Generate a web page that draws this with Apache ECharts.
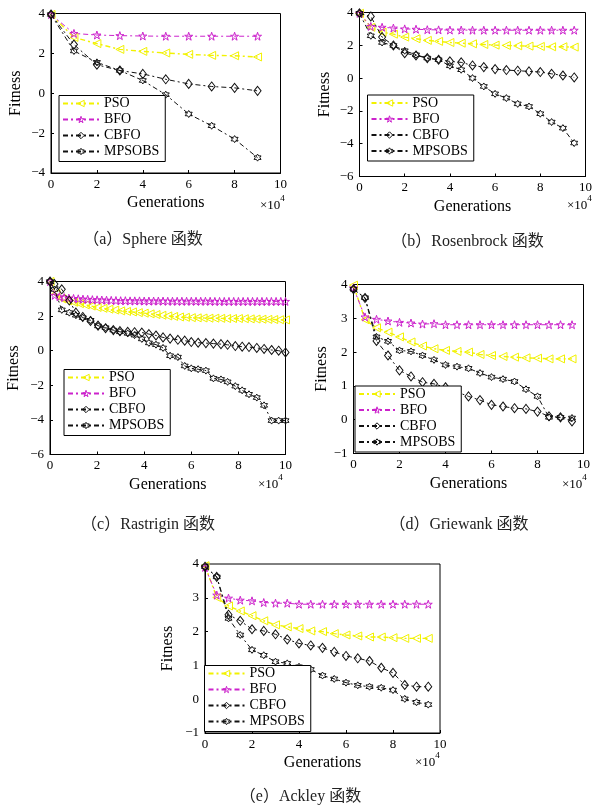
<!DOCTYPE html>
<html>
<head>
<meta charset="utf-8">
<script src="https://cdn.jsdelivr.net/npm/echarts@6/dist/echarts.min.js"></script>
<style>
html,body{margin:0;padding:0;background:#fff;}
#chart{width:595px;height:805px;}
</style>
</head>
<body>
<div id="chart"></div>
<script>
// ---------- data ----------
const seriesNames = ['PSO', 'BFO', 'CBFO', 'MPSOBS'];
const captions = ['（a）Sphere 函数', '（b）Rosenbrock 函数', '（c）Rastrigin 函数', '（d）Griewank 函数', '（e）Ackley 函数'];
const xTicks = [0, 2, 4, 6, 8, 10];
const yTicksA = [-4, -2, 0, 2, 4];
const yTicksB = [-6, -4, -2, 0, 2, 4];
const yTicksC = [-6, -4, -2, 0, 2, 4];
const yTicksD = [-1, 0, 1, 2, 3, 4];
const yTicksE = [-1, 0, 1, 2, 3, 4];

// (a) Sphere
const xA = [0, 1, 2, 3, 4, 5, 6, 7, 8, 9];
const psoA = [3.95, 2.8, 2.49, 2.2, 2.1, 2.02, 1.95, 1.9, 1.88, 1.82];
const bfoA = [3.95, 3.0, 2.92, 2.89, 2.87, 2.86, 2.86, 2.86, 2.86, 2.86];
const cbfoA = [3.95, 2.44, 1.43, 1.14, 0.97, 0.7, 0.47, 0.34, 0.27, 0.12];
const mpsA = [3.95, 2.12, 1.55, 1.14, 0.64, -0.07, -1.04, -1.63, -2.3, -3.23];

// (b) Rosenbrock
const xB = [0, 0.5, 1, 1.5, 2, 2.5, 3, 3.5, 4, 4.5, 5, 5.5, 6, 6.5, 7, 7.5, 8, 8.5, 9, 9.5];
const psoB = [3.95, 3.1, 2.8, 2.68, 2.5, 2.4, 2.3, 2.24, 2.17, 2.13, 2.09, 2.05, 2.01, 1.99, 1.97, 1.95, 1.93, 1.91, 1.91, 1.89];
const bfoB = [3.95, 3.15, 3.1, 3.05, 3.0, 2.98, 2.95, 2.94, 2.93, 2.93, 2.92, 2.92, 2.92, 2.92, 2.92, 2.92, 2.92, 2.92, 2.92, 2.92];
const cbfoB = [3.95, 3.76, 2.5, 1.99, 1.52, 1.38, 1.22, 1.12, 1.02, 0.96, 0.77, 0.67, 0.55, 0.49, 0.45, 0.41, 0.37, 0.26, 0.16, 0.04];
const mpsB = [3.95, 2.58, 2.17, 1.99, 1.67, 1.42, 1.22, 1.12, 0.75, 0.51, 0.0, -0.51, -0.96, -1.22, -1.57, -1.73, -2.17, -2.68, -3.05, -3.96];

// (c) Rastrigin
const xPsoC = [0, 0.25, 0.5, 0.75, 1, 1.25, 1.5, 1.75, 2, 2.25, 2.5, 2.75, 3, 3.25, 3.5, 3.75, 4, 4.25, 4.5, 4.75, 5, 5.25, 5.5, 5.75, 6, 6.25, 6.5, 6.75, 7, 7.25, 7.5, 7.75, 8, 8.25, 8.5, 8.75, 9, 9.25, 9.5, 9.75, 10];
const psoC = [4.0, 3.3, 3.0, 2.88, 2.8, 2.72, 2.65, 2.58, 2.5, 2.45, 2.4, 2.35, 2.3, 2.27, 2.24, 2.2, 2.17, 2.13, 2.09, 2.05, 2.01, 1.98, 1.95, 1.93, 1.91, 1.9, 1.89, 1.88, 1.88, 1.87, 1.86, 1.86, 1.86, 1.85, 1.84, 1.83, 1.82, 1.81, 1.8, 1.79, 1.78];
const xBfoC = [0, 0.2, 0.4, 0.6, 0.8, 1, 1.2, 1.4, 1.6, 1.8, 2, 2.2, 2.4, 2.6, 2.8, 3, 3.2, 3.4, 3.6, 3.8, 4, 4.2, 4.4, 4.6, 4.8, 5, 5.2, 5.4, 5.6, 5.8, 6, 6.2, 6.4, 6.6, 6.8, 7, 7.2, 7.4, 7.6, 7.8, 8, 8.2, 8.4, 8.6, 8.8, 9, 9.2, 9.4, 9.6, 9.8, 10];
const bfoC = [4.0, 3.2, 3.12, 3.07, 3.04, 3.02, 3.0, 2.98, 2.97, 2.95, 2.94, 2.93, 2.92, 2.91, 2.9, 2.89, 2.89, 2.88, 2.88, 2.88, 2.87, 2.87, 2.87, 2.87, 2.87, 2.86, 2.86, 2.86, 2.86, 2.86, 2.86, 2.86, 2.86, 2.86, 2.86, 2.85, 2.85, 2.85, 2.85, 2.85, 2.85, 2.85, 2.85, 2.85, 2.85, 2.85, 2.85, 2.85, 2.85, 2.85, 2.85];
const xCbC = [0, 0.19, 0.5, 0.82, 1.1, 1.39, 1.72, 2.04, 2.36, 2.69, 2.97, 3.3, 3.59, 3.9, 4.2, 4.5, 4.8, 5.1, 5.43, 5.72, 6.0, 6.29, 6.62, 6.94, 7.26, 7.54, 7.87, 8.16, 8.45, 8.78, 9.09, 9.41, 9.71, 10.0];
const cbfoC = [4.0, 3.85, 3.55, 2.9, 2.2, 1.95, 1.72, 1.45, 1.3, 1.19, 1.13, 1.09, 1.07, 1.05, 0.96, 0.88, 0.77, 0.7, 0.63, 0.58, 0.5, 0.46, 0.44, 0.41, 0.38, 0.34, 0.27, 0.23, 0.21, 0.16, 0.1, 0.04, 0.0, -0.1];
const mpsC = [4.0, 3.54, 2.36, 2.2, 2.05, 1.91, 1.76, 1.43, 1.33, 1.19, 1.09, 1.0, 0.9, 0.68, 0.45, 0.35, 0.16, -0.29, -0.37, -0.88, -1.02, -1.07, -1.15, -1.6, -1.66, -1.8, -2.05, -2.29, -2.52, -2.71, -3.16, -4.04, -4.04, -4.04];

// (d) Griewank
const xD = [0, 0.5, 1, 1.5, 2, 2.5, 3, 3.5, 4, 4.5, 5, 5.5, 6, 6.5, 7, 7.5, 8, 8.5, 9, 9.5];
const psoD = [3.98, 2.96, 2.72, 2.59, 2.45, 2.3, 2.18, 2.1, 2.05, 2.02, 2.0, 1.93, 1.9, 1.87, 1.85, 1.83, 1.82, 1.8, 1.8, 1.8];
const bfoD = [3.9, 3.04, 2.97, 2.92, 2.88, 2.86, 2.83, 2.84, 2.81, 2.81, 2.81, 2.81, 2.81, 2.81, 2.81, 2.81, 2.81, 2.81, 2.81, 2.81];
const cbfoD = [3.86, 3.6, 2.33, 1.9, 1.46, 1.28, 1.11, 1.06, 0.96, 0.82, 0.69, 0.58, 0.44, 0.39, 0.34, 0.32, 0.24, 0.1, 0.07, -0.05];
const mpsD = [3.86, 3.61, 2.45, 2.32, 2.05, 2.02, 1.9, 1.77, 1.62, 1.57, 1.52, 1.38, 1.26, 1.2, 1.13, 0.9, 0.69, 0.07, 0.07, 0.05];

// (e) Ackley
const xE = [0, 0.5, 1, 1.5, 2, 2.5, 3, 3.5, 4, 4.5, 5, 5.5, 6, 6.5, 7, 7.5, 8, 8.5, 9, 9.5];
const psoE = [3.95, 3.01, 2.76, 2.61, 2.47, 2.32, 2.2, 2.14, 2.09, 2.02, 2.0, 1.94, 1.9, 1.87, 1.84, 1.84, 1.82, 1.8, 1.8, 1.8];
const bfoE = [3.9, 3.08, 2.99, 2.93, 2.91, 2.86, 2.84, 2.84, 2.81, 2.81, 2.81, 2.81, 2.81, 2.81, 2.81, 2.81, 2.81, 2.81, 2.81, 2.81];
const cbfoE = [3.92, 3.62, 2.5, 2.32, 2.07, 2.02, 1.92, 1.77, 1.65, 1.59, 1.52, 1.4, 1.28, 1.21, 1.13, 0.93, 0.78, 0.42, 0.37, 0.37];
const mpsE = [3.92, 3.62, 2.39, 1.9, 1.46, 1.3, 1.11, 1.06, 0.96, 0.88, 0.7, 0.6, 0.49, 0.41, 0.37, 0.34, 0.27, 0.01, -0.09, -0.16];

// ---------- styling ----------
const SERIF = '"Liberation Serif", "Times New Roman", serif';
const CAPFONT = '"Liberation Serif", "Noto Sans CJK SC", serif';
const YELLOW = '#f2f200';
const MAGENTA = '#cc22cc';
const BLACK = '#111111';
const DASH = [5, 3, 2, 3];
const STAR5 = 'path://M50,0 L61.8,35.1 L98.9,35.1 L69,56.7 L80.3,91.9 L50,70.2 L19.7,91.9 L31,56.7 L1.1,35.1 L38.2,35.1 Z';
const HEX6 = 'path://M50,0 L64.4,25 L93.3,25 L78.9,50 L93.3,75 L64.4,75 L50,100 L35.6,75 L6.7,75 L21.1,50 L6.7,25 L35.6,25 Z';

const styles = {
  PSO:    {color: YELLOW,  symbol: 'triangle', symbolRotate: 90, symbolSize: 8, width: 1.4},
  BFO:    {color: MAGENTA, symbol: STAR5, symbolRotate: 0, symbolSize: 8, width: 1},
  CBFO:   {color: BLACK,   symbol: 'diamond', symbolRotate: 0, symbolSize: [7, 9], width: 1},
  MPSOBS: {color: BLACK,   symbol: HEX6, symbolRotate: 0, symbolSize: 7, width: 1}
};

const panels = [
  {grid: {left: 51, top: 13.5, width: 229.5, height: 159.5}, yTicks: yTicksA, yGap: 27,
   legend: {left: 59, top: 95.5},
   series: [[xA, psoA], [xA, bfoA], [xA, cbfoA], [xA, mpsA]],
   cap: [143, 240], x10: [260, 203]},
  {grid: {left: 359.5, top: 12.5, width: 229, height: 164}, yTicks: yTicksB, yGap: 27,
   legend: {left: 367.5, top: 95},
   series: [[xB, psoB], [xB, bfoB], [xB, cbfoB], [xB, mpsB]],
   cap: [467.5, 241.5], x10: [567, 203]},
  {grid: {left: 50, top: 281.5, width: 235.5, height: 173}, yTicks: yTicksC, yGap: 28,
   legend: {left: 64, top: 369.5},
   series: [[xPsoC, psoC], [xBfoC, bfoC], [xCbC, cbfoC], [xCbC, mpsC]],
   cap: [148, 525], x10: [258, 482]},
  {grid: {left: 353.5, top: 284.5, width: 230, height: 169}, yTicks: yTicksD, yGap: 21,
   legend: {left: 355, top: 386},
   series: [[xD, psoD], [xD, bfoD], [xD, cbfoD], [xD, mpsD]],
   cap: [459, 525], x10: [562, 482]},
  {grid: {left: 205, top: 564, width: 235, height: 169}, yTicks: yTicksE, yGap: 29,
   legend: {left: 204.5, top: 665.5},
   series: [[xE, psoE], [xE, bfoE], [xE, cbfoE], [xE, mpsE]],
   cap: [300.5, 796.5], x10: [415, 760]}
];

const fmt = v => String(v).replace('-', '\u2212');

const option = {
  animation: false,
  backgroundColor: '#fff',
  grid: [], xAxis: [], yAxis: [], series: [], legend: [], graphic: []
};

panels.forEach((p, gi) => {
  option.grid.push(Object.assign({show: true, borderColor: '#000', borderWidth: 1, backgroundColor: 'transparent', containLabel: false}, p.grid));
  option.xAxis.push({
    type: 'value', gridIndex: gi, min: xTicks[0], max: xTicks[xTicks.length - 1], interval: xTicks[1] - xTicks[0],
    name: 'Generations', nameLocation: 'middle', nameGap: 22,
    nameTextStyle: {fontFamily: SERIF, fontSize: 16, color: '#000'},
    axisLine: {show: true, onZero: false, lineStyle: {color: '#000', width: 1}},
    axisTick: {show: true, inside: true, length: 3, lineStyle: {color: '#000'}},
    axisLabel: {fontFamily: SERIF, fontSize: 13, color: '#000', margin: 5, formatter: fmt},
    splitLine: {show: false}
  });
  option.yAxis.push({
    type: 'value', gridIndex: gi, min: p.yTicks[0], max: p.yTicks[p.yTicks.length - 1], interval: p.yTicks[1] - p.yTicks[0],
    name: 'Fitness', nameLocation: 'middle', nameGap: p.yGap,
    nameTextStyle: {fontFamily: SERIF, fontSize: 16, color: '#000'},
    axisLine: {show: true, onZero: false, lineStyle: {color: '#000', width: 1}},
    axisTick: {show: true, inside: true, length: 3, lineStyle: {color: '#000'}},
    axisLabel: {fontFamily: SERIF, fontSize: 13, color: '#000', margin: 6, formatter: fmt},
    splitLine: {show: false}
  });
  seriesNames.forEach((nm, si) => {
    const st = styles[nm];
    const xs = p.series[si][0], ys = p.series[si][1];
    option.series.push({
      type: 'line', name: nm, xAxisIndex: gi, yAxisIndex: gi,
      data: xs.map((x, i) => [x, ys[i]]),
      symbol: st.symbol, symbolSize: st.symbolSize, symbolRotate: st.symbolRotate,
      showAllSymbol: true, clip: true,
      lineStyle: {color: st.color, width: st.width, type: DASH},
      itemStyle: {color: 'rgba(255,255,255,0)', borderColor: st.color, borderWidth: 1},
      z: 2 + si
    });
  });
  option.legend.push({
    show: true, orient: 'vertical', left: p.legend.left, top: p.legend.top,
    data: seriesNames, itemWidth: 36, itemHeight: 8, itemGap: 2,
    padding: [1, 6, 3, 3], backgroundColor: '#fff', borderColor: '#000', borderWidth: 1,
    itemStyle: {color: 'rgba(255,255,255,0)', borderWidth: 1},
    textStyle: {fontFamily: SERIF, fontSize: 14, color: '#000', lineHeight: 14},
    selectedMode: false, z: 10
  });
  option.graphic.push({
    type: 'text', left: p.x10[0], top: p.x10[1] - 9, z: 20,
    style: {
      text: '{a|×10}{b|4}',
      rich: {
        a: {fontFamily: SERIF, fontSize: 13, fill: '#000', verticalAlign: 'bottom', lineHeight: 18},
        b: {fontFamily: SERIF, fontSize: 9, fill: '#000', verticalAlign: 'top', lineHeight: 18, padding: [0, 0, 8, 0]}
      }
    }
  });
  option.graphic.push({
    type: 'text', x: p.cap[0], y: p.cap[1], z: 20,
    style: {text: captions[gi], font: '16px ' + CAPFONT, fill: '#222', textAlign: 'center', textVerticalAlign: 'middle'}
  });
});

const chart = echarts.init(document.getElementById('chart'), null, {renderer: 'canvas'});
chart.setOption(option);
</script>
</body>
</html>
